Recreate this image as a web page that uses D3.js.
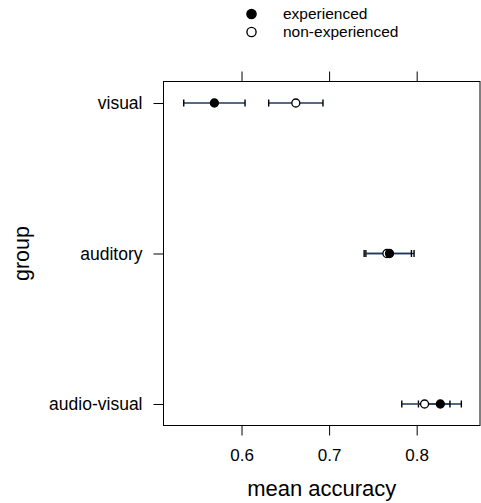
<!DOCTYPE html>
<html>
<head>
<meta charset="utf-8">
<script src="https://cdn.jsdelivr.net/npm/d3@7"></script>
<style>
  html, body { margin: 0; padding: 0; background: #fff; }
  svg { display: block; font-family: "Liberation Sans", Arial, sans-serif; }
</style>
</head>
<body>
<svg id="chart" width="481" height="503"></svg>
<script>
// Groups, top to bottom
const groups = ["visual", "auditory", "audio-visual"];
const seriesNames = ["experienced", "non-experienced"];

// Mean accuracy and interval bounds per group (same order as groups)
const expMean  = [0.569, 0.769, 0.827];
const expLow   = [0.534, 0.742, 0.802];
const expHigh  = [0.604, 0.797, 0.851];
const nonMean  = [0.662, 0.766, 0.809];
const nonLow   = [0.631, 0.740, 0.783];
const nonHigh  = [0.693, 0.794, 0.838];

const xTicks = [0.6, 0.7, 0.8];
const xTitle = "mean accuracy";
const yTitle = "group";

const svg = d3.select("#chart");
const box = { left: 163.5, right: 480, top: 81.5, bottom: 425.5 };

const x = d3.scaleLinear().domain([0.5109, 0.8723]).range([box.left, box.right]);
const y = d3.scalePoint().domain(groups).range([box.top, box.bottom]).padding(0.143);

// Frame
svg.append("rect")
  .attr("x", box.left).attr("y", box.top)
  .attr("width", box.right - box.left).attr("height", box.bottom - box.top)
  .attr("fill", "none").attr("stroke", "#000").attr("stroke-width", 1);

// Axes: labelled ticks at the bottom, bare ticks on top, group ticks on the left
const bottomAxis = d3.axisBottom(x).tickValues(xTicks).tickFormat(d3.format(".1f"))
  .tickSizeInner(10).tickSizeOuter(0).tickPadding(13);
const gB = svg.append("g").attr("transform", `translate(0,${box.bottom})`).call(bottomAxis);
gB.select(".domain").remove();
gB.selectAll("text").attr("font-size", 17).attr("fill", "#000")
  .attr("font-family", "Liberation Sans, Arial, sans-serif");
gB.selectAll("line").attr("stroke", "#000");

const topAxis = d3.axisTop(x).tickValues(xTicks).tickFormat("").tickSizeInner(10).tickSizeOuter(0);
const gT = svg.append("g").attr("transform", `translate(0,${box.top})`).call(topAxis);
gT.select(".domain").remove();
gT.selectAll("line").attr("stroke", "#000");

const leftAxis = d3.axisLeft(y).tickSizeInner(10).tickSizeOuter(0).tickPadding(11);
const gL = svg.append("g").attr("transform", `translate(${box.left},0)`).call(leftAxis);
gL.select(".domain").remove();
gL.selectAll("text").attr("font-size", 17.5).attr("fill", "#000")
  .attr("font-family", "Liberation Sans, Arial, sans-serif");
gL.selectAll("line").attr("stroke", "#000");

// Axis titles
svg.append("text").attr("x", (box.left + box.right) / 2).attr("y", 496)
  .attr("text-anchor", "middle").attr("font-size", 22).text(xTitle);
svg.append("text")
  .attr("transform", `translate(29,${(box.top + box.bottom) / 2}) rotate(-90)`)
  .attr("text-anchor", "middle").attr("font-size", 21.5).text(yTitle);

// Build rows for each series
const series = [
  { name: seriesNames[0], mean: expMean, low: expLow, high: expHigh, fill: "#000" },
  { name: seriesNames[1], mean: nonMean, low: nonLow, high: nonHigh, fill: "#fff" }
];

const capH = 3.5;
const plot = svg.append("g");
series.forEach(s => {
  groups.forEach((g, i) => {
    const cy = y(g);
    const eb = plot.append("g");
    eb.append("line")
      .attr("x1", x(s.low[i])).attr("x2", x(s.high[i]))
      .attr("y1", cy).attr("y2", cy)
      .attr("stroke", "#1d3a5c").attr("stroke-width", 1.6);
    [s.low[i], s.high[i]].forEach(v => {
      eb.append("line")
        .attr("x1", x(v)).attr("x2", x(v))
        .attr("y1", cy - capH).attr("y2", cy + capH)
        .attr("stroke", "#000").attr("stroke-width", 1.4);
    });
  });
});
// Points drawn after the bars so circles sit on top
[series[1], series[0]].forEach(s => {
  groups.forEach((g, i) => {
    plot.append("circle")
      .attr("cx", x(s.mean[i])).attr("cy", y(g)).attr("r", 4)
      .attr("fill", s.fill).attr("stroke", "#000").attr("stroke-width", 1.3);
  });
});

// Legend
const legend = svg.append("g");
series.forEach((s, i) => {
  const ly = 14 + i * 18;
  legend.append("circle").attr("cx", 251.5).attr("cy", ly).attr("r", 4.6)
    .attr("fill", s.fill).attr("stroke", "#000").attr("stroke-width", 1.4);
  legend.append("text").attr("x", 283).attr("y", ly + 5)
    .attr("font-size", 15.5).text(s.name);
});
</script>
</body>
</html>
